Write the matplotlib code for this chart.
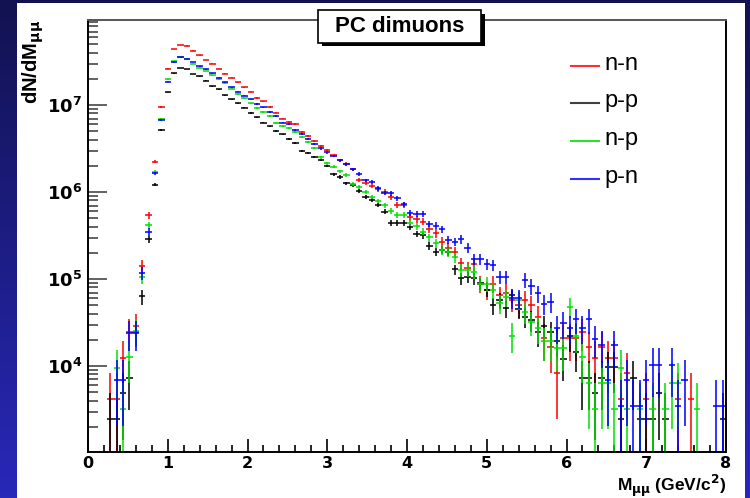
import numpy as np
import matplotlib
matplotlib.use("Agg")
import matplotlib.pyplot as plt
from matplotlib.patches import Rectangle
from matplotlib.lines import Line2D
from matplotlib.ticker import FixedLocator, MultipleLocator, NullFormatter

plt.rcParams['font.family'] = ['Liberation Sans', 'DejaVu Sans']
plt.rcParams['mathtext.fontset'] = 'custom'
plt.rcParams['mathtext.rm'] = 'DejaVu Sans:bold'
plt.rcParams['mathtext.it'] = 'DejaVu Sans:bold'
plt.rcParams['mathtext.bf'] = 'DejaVu Sans:bold'
plt.rcParams['mathtext.default'] = 'rm'

# ---------------- data (100 bins, 0 - 8 GeV/c^2) ----------------
n_bins = 100
m_min, m_max = 0.0, 8.0

labels = ["n-n", "p-p", "n-p", "p-n"]
colors = ["#ff0000", "#000000", "#00e000", "#0000ff"]
legend_colors = ["#ff3030", "#404040", "#30e030", "#3030ff"]
# weight of one entry (sets the statistical error)
weights = [4150, 2430, 3200, 3450]

nn = [0, 0, 0, 4150, 4150, 12450, 24900, 29050, 1.42e5, 5.4e5,
      2.23e6, 9.5e6, 2.6e7, 4.4e7, 4.9e7, 4.8e7, 4.2e7, 3.72e7, 3.3e7, 2.99e7,
      2.6e7, 2.29e7, 2.07e7, 1.82e7, 1.6e7, 1.42e7, 1.21e7, 1.1e7, 9.55e6, 8.2e6,
      7.0e6, 6.32e6, 6.0e6, 4.85e6, 4.4e6, 3.86e6, 3.38e6, 3.04e6, 2.66e6, 2.33e6,
      2.1e6, 1.82e6, 1.37e6, 1.27e6, 1.17e6, 1.07e6, 1.01e6, 8.7e5, 7.1e5, 7.1e5,
      5.12e5, 4.9e5, 4.56e5, 3.76e5, 3.35e5, 2.68e5, 2.27e5, 2.04e5, 1.51e5, 1.33e5,
      1.49e5, 8.8e4, 7.5e4, 8.8e4, 6.5e4, 7.0e4, 5.7e4, 5.0e4, 5.8e4, 5.0e4,
      3.7e4, 20750, 16600, 8300, 20750, 20750, 20750, 24900, 16600, 12450,
      16600, 12450, 12450, 4150, 8300, 0, 0, 4150, 0, 0,
      0, 0, 4150, 0, 4150, 0, 0, 0, 0, 0]

pp = [0, 0, 0, 2430, 2430, 4860, 7290, 24300, 6.3e4, 2.89e5,
      1.22e6, 5.16e6, 1.41e7, 2.31e7, 2.66e7, 2.6e7, 2.27e7, 2.14e7, 1.9e7, 1.64e7,
      1.51e7, 1.3e7, 1.17e7, 1.05e7, 9.3e6, 8.1e6, 7.2e6, 6.3e6, 5.7e6, 5.0e6,
      4.6e6, 4.06e6, 3.66e6, 2.96e6, 2.8e6, 2.52e6, 2.33e6, 1.99e6, 1.61e6, 1.49e6,
      1.26e6, 1.2e6, 1.03e6, 8.7e5, 8.1e5, 7.1e5, 5.94e5, 4.44e5, 4.44e5, 4.44e5,
      4.0e5, 3.29e5, 3.2e5, 2.39e5, 2.06e5, 2.15e5, 2.06e5, 1.29e5, 1.02e5, 1.06e5,
      1.02e5, 8.9e4, 7.5e4, 5.0e4, 5.7e4, 4.6e4, 6.5e4, 4.5e4, 3.69e4, 3.38e4,
      24300, 29160, 24300, 19440, 12150, 21870, 14580, 7290, 7290, 4860,
      7290, 9720, 9720, 2430, 0, 7290, 2430, 2430, 2430, 4860,
      2430, 0, 0, 0, 0, 0, 0, 0, 0, 2430]

np_ = [0, 0, 0, 0, 9600, 3200, 12800, 25600, 1.06e5, 4.17e5,
       1.7e6, 6.9e6, 1.97e7, 3.2e7, 3.6e7, 3.4e7, 3.0e7, 2.7e7, 2.46e7, 2.21e7,
       1.97e7, 1.78e7, 1.54e7, 1.34e7, 1.19e7, 1.05e7, 9.3e6, 8.3e6, 7.5e6, 6.2e6,
       5.8e6, 5.5e6, 4.85e6, 4.25e6, 3.79e6, 3.2e6, 2.5e6, 2.14e6, 1.95e6, 1.74e6,
       1.57e6, 1.24e6, 1.13e6, 1.01e6, 8.8e5, 7.9e5, 7.1e5, 6.1e5, 5.44e5, 5.44e5,
       4.44e5, 4.06e5, 3.5e5, 3.01e5, 2.57e5, 2.15e5, 2.04e5, 1.77e5, 1.27e5, 1.27e5,
       1.2e5, 8.8e4, 8.8e4, 7.5e4, 5.26e4, 6.17e4, 22400, 5.7e4, 4.2e4, 3.2e4,
       2.7e4, 19200, 19200, 16000, 16000, 48000, 22400, 12800, 6400, 3200,
       6400, 6400, 3200, 9600, 3200, 0, 3200, 0, 3200, 0,
       3200, 6400, 6400, 0, 0, 3200, 0, 0, 0, 0]

pn = [0, 0, 0, 0, 6900, 6900, 24150, 24150, 1.17e5, 3.48e5,
      1.64e6, 6.7e6, 1.85e7, 3.1e7, 3.55e7, 3.38e7, 3.12e7, 2.8e7, 2.57e7, 2.31e7,
      2.07e7, 1.84e7, 1.6e7, 1.42e7, 1.28e7, 1.16e7, 1.03e7, 9.4e6, 8.3e6, 7.5e6,
      6.3e6, 6.0e6, 5.16e6, 4.6e6, 4.06e6, 3.56e6, 3.18e6, 2.86e6, 2.6e6, 2.33e6,
      2.08e6, 1.82e6, 1.61e6, 1.36e6, 1.31e6, 1.1e6, 9.8e5, 9.7e5, 8.5e5, 7.2e5,
      5.7e5, 5.55e5, 5.55e5, 4.3e5, 4.1e5, 3.76e5, 2.81e5, 2.68e5, 2.86e5, 2.29e5,
      1.7e5, 1.7e5, 1.49e5, 1.45e5, 1.06e5, 1.06e5, 6.0e4, 6.0e4, 9.75e4, 8.3e4,
      6.85e4, 5.16e4, 5.48e4, 27600, 31050, 27600, 34500, 27600, 34500, 20700,
      17250, 6900, 17250, 3450, 6900, 3450, 3450, 6900, 10350, 10350,
      0, 10350, 3450, 6900, 0, 0, 0, 0, 3450, 3450]

series = [nn, pp, np_, pn]

y_min, y_max = 1027, 9.5e7
x_ticks = [0, 1, 2, 3, 4, 5, 6, 7, 8]
y_ticks = [1e4, 1e5, 1e6, 1e7]
y_tick_labels = [r"$10^{4}$", r"$10^{5}$", r"$10^{6}$", r"$10^{7}$"]

# ---------------- figure ----------------
W, H = 750, 498
fig = plt.figure(figsize=(W / 100, H / 100), dpi=100)

def fx(px):
    return px / W

def fy(py):
    return 1 - py / H

# slide background gradient
bg = fig.add_axes([0, 0, 1, 1], zorder=-10)
t = np.linspace(0, 1, H)[:, None]
top = np.array([18, 18, 80]) / 255
bot = np.array([40, 40, 185]) / 255
grad = top[None, None, :] * (1 - t[:, :, None]) + bot[None, None, :] * t[:, :, None]
grad = np.repeat(grad, 10, axis=1)
bg.imshow(grad, aspect="auto", extent=[0, 1, 0, 1])
bg.set_axis_off()
bg.add_patch(Rectangle((fx(17), 0), fx(745) - fx(17), fy(3), transform=bg.transAxes,
                       facecolor="white", edgecolor="none"))

ax = fig.add_axes([fx(88), fy(452), fx(726) - fx(88), fy(20) - fy(452)])
ax.set_facecolor("white")

edges = np.linspace(m_min, m_max, n_bins + 1)
centers = 0.5 * (edges[:-1] + edges[1:])
half = 0.5 * (edges[1] - edges[0])

for vals, col, w in zip(series, colors, weights):
    v = np.asarray(vals, dtype=float)
    msk = v > 0
    x = centers[msk]
    y = v[msk]
    err = np.sqrt(y * w)
    low = np.maximum(y - err, 1.0)
    ax.errorbar(x, y, yerr=[y - low, err], xerr=half, fmt="none",
                ecolor=col, elinewidth=1.3, capsize=0, alpha=0.85)

ax.set_yscale("log")
ax.set_xlim(m_min, m_max)
ax.set_ylim(y_min, y_max)

ax.xaxis.set_major_locator(FixedLocator(x_ticks))
ax.xaxis.set_minor_locator(MultipleLocator(0.2))
ax.set_xticklabels([str(v) for v in x_ticks])
ax.yaxis.set_major_locator(FixedLocator(y_ticks))
ax.set_yticklabels(y_tick_labels)
minor_y = [m * 10 ** e for e in range(3, 8) for m in range(2, 10)]
ax.yaxis.set_minor_locator(FixedLocator(minor_y))
ax.yaxis.set_minor_formatter(NullFormatter())

ax.tick_params(axis="x", which="major", direction="in", length=9.5, width=1.2,
               pad=3, labelsize=11.5)
ax.tick_params(axis="x", which="minor", direction="in", length=5, width=1.2)
ax.tick_params(axis="y", which="major", direction="in", length=14, width=1.3,
               pad=4, labelsize=13, color="#555555")
ax.tick_params(axis="y", which="minor", direction="in", length=7.5, width=1.3,
               color="#555555")
ax.tick_params(top=False, right=False)
for lab in ax.get_xticklabels() + ax.get_yticklabels():
    lab.set_fontweight("bold")
    lab.set_fontfamily("DejaVu Sans")
for s in ax.spines.values():
    s.set_linewidth(1.4)
    s.set_color("black")
ax.spines["top"].set_color("#555555")

# axis titles
fig.text(fx(33), fy(20), r"dN/dM$_{\mu\mu}$", rotation=90, ha="center", va="top",
         fontsize=14.5, fontweight="bold")
fig.text(fx(726), fy(491), r"M$_{\mu\mu}$ (GeV/c$^{2}$)", ha="right", va="baseline",
         fontsize=12.5, fontweight="bold")

# title box with shadow
fig.patches.append(Rectangle((fx(322), fy(46)), fx(485) - fx(322), fy(14) - fy(46),
                             transform=fig.transFigure, facecolor="black",
                             edgecolor="none", zorder=20))
fig.patches.append(Rectangle((fx(318), fy(43)), fx(481) - fx(318), fy(10) - fy(43),
                             transform=fig.transFigure, facecolor="white",
                             edgecolor="black", linewidth=1.2, zorder=21))
fig.text(fx(400), fy(26.5), "PC dimuons", ha="center", va="center", fontsize=16,
         fontweight="bold", zorder=22)

# legend
leg_y = [66, 103, 141, 179]
for lab, col, yy in zip(labels, legend_colors, leg_y):
    fig.add_artist(Line2D([fx(571), fx(599)], [fy(yy), fy(yy)], color=col, lw=1.5,
                          transform=fig.transFigure))
    fig.text(fx(604), fy(yy - 2), lab, ha="left", va="center", fontsize=17)

fig.savefig("out.png", dpi=100)
